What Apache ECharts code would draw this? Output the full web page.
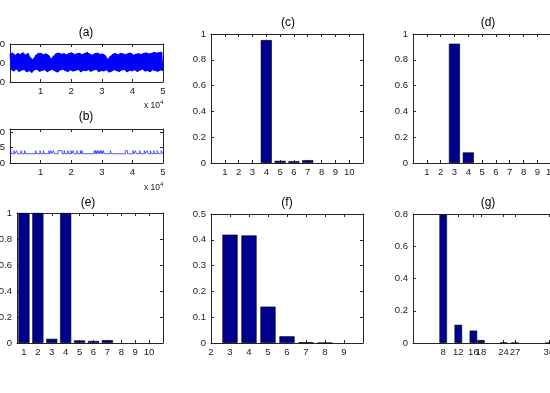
<!DOCTYPE html>
<html>
<head>
<meta charset="utf-8">
<script src="https://cdn.jsdelivr.net/npm/echarts@6/dist/echarts.min.js"></script>
<style>
  html, body { margin: 0; padding: 0; background: #fff; }
  #main { width: 550px; height: 393px; }
</style>
</head>
<body>
<div id="main"></div>
<script>
// (a) noisy trace, read as upper / lower envelope per slice of the record
var sigHigh = [-105,-95,-120,-100,-110,-92,-115,-100,-150,-165,-120,-100,-98,-112,-104,-118,-160,-125,-100,-96,
               -108,-102,-115,-99,-93,-110,-104,-97,-112,-100,-90,-106,-118,-102,-96,-110,-105,-120,-165,-130,
               -108,-100,-115,-98,-104,-112,-100,-96,-118,-108,-102,-110,-99,-94,-105,-100,-88,-96,-92,-85];
var sigLow = [-270,-285,-262,-290,-275,-268,-295,-280,-300,-272,-265,-288,-278,-270,-292,-276,-268,-284,-296,-274,
              -266,-280,-290,-272,-285,-278,-268,-293,-276,-282,-270,-288,-275,-265,-291,-279,-284,-272,-296,-286,
              -270,-281,-289,-274,-268,-295,-277,-283,-270,-290,-276,-264,-285,-279,-292,-271,-280,-287,-273,-278];
var sigMid = -200;
var aTicksY = [-400, -200, 0];

// (b) state sequence: sits at 3, short jumps to 4 ([start, end] in units of 1e4)
var bBase = 3, bTop = 4;
var bSpikes = [[0.02,0.05],[0.13,0.16],[0.22,0.25],[0.36,0.39],[0.48,0.51],[0.84,0.87],[0.98,1.01],[1.09,1.12],
               [1.27,1.30],[1.34,1.37],[1.42,1.45],[1.57,1.70],[1.77,1.80],[1.89,1.92],[1.99,2.02],[2.06,2.09],
               [2.19,2.22],[2.30,2.33],[2.35,2.38],[2.75,2.78],[2.80,2.83],[2.85,2.88],[2.90,2.93],[2.95,2.98],
               [3.00,3.03],[3.05,3.08],[3.28,3.31],[3.77,3.84],[4.02,4.05],[4.10,4.13],[4.24,4.27],[4.39,4.42],
               [4.48,4.51],[4.59,4.62],[4.70,4.73],[4.81,4.84],[4.94,5.00]];
var bTicksY = [0, 5, 10];
var timeTicks = [1, 2, 3, 4, 5]; // x 10^4

// (c) (d) (e) bars over 1..10
var barCats = [1, 2, 3, 4, 5, 6, 7, 8, 9, 10];
var cVals = [0, 0, 0, 0.953, 0.017, 0.014, 0.022, 0, 0, 0];
var dVals = [0, 0, 0.925, 0.082, 0, 0, 0, 0, 0, 0];
var eVals = [1, 1, 0.032, 1, 0.02, 0.016, 0.022, 0, 0, 0];
var unitTicksY = [0, 0.2, 0.4, 0.6, 0.8, 1];

// (f)
var fCats = [3, 4, 5, 6, 7, 8, 9];
var fVals = [0.42, 0.417, 0.141, 0.026, 0.003, 0.0005, 0];
var fTicksX = [2, 3, 4, 5, 6, 7, 8, 9];
var fTicksY = [0, 0.1, 0.2, 0.3, 0.4, 0.5];

// (g)
var gCats = [8, 12, 16, 18, 24, 27, 36];
var gVals = [0.795, 0.113, 0.077, 0.018, 0.003, 0.0008, 0.0003];
var gTicksX = [8, 12, 16, 18, 24, 27, 36];
var gTicksY = [0, 0.2, 0.4, 0.6, 0.8];

var FONT = '"Liberation Sans", Arial, sans-serif';
var INK = '#262626';
var BAR = '#00008f';
var TRACE = '#0000ff';

var grids = [], xAxes = [], yAxes = [], series = [], graphics = [];

function axis(gi, pos, range, ticks, showLabels, fmt, isX) {
  return {
    type: 'value', gridIndex: gi, position: pos,
    min: range[0], max: range[1],
    splitLine: { show: false },
    axisLine: { show: true, onZero: false, lineStyle: { color: INK, width: 1 } },
    axisTick: { show: true, inside: true, length: 3, customValues: ticks, lineStyle: { color: INK } },
    axisLabel: {
      show: showLabels, customValues: ticks, formatter: fmt,
      color: '#1a1a1a', fontFamily: FONT, fontSize: 9.5, margin: isX ? 4 : 5
    }
  };
}

// one MATLAB-style boxed axes; returns axis indices for its series
function panel(box, xr, xticks, xfmt, yr, yticks) {
  var gi = grids.length;
  grids.push({ left: box[0], top: box[1], width: box[2], height: box[3],
    containLabel: false, outerBoundsMode: 'none' });
  xAxes.push(axis(gi, 'bottom', xr, xticks, true, xfmt, true));
  xAxes.push(axis(gi, 'top', xr, xticks, false, null, true));
  yAxes.push(axis(gi, 'left', yr, yticks, true, null, false));
  yAxes.push(axis(gi, 'right', yr, yticks, false, null, false));
  return { xAxisIndex: 2 * gi, yAxisIndex: 2 * gi, box: box, xr: xr };
}

function title(text, x, y) {
  graphics.push({ type: 'text', x: x, y: y, silent: true,
    style: { text: text, font: '12px ' + FONT, fill: '#000', textAlign: 'center', textVerticalAlign: 'middle' } });
}

function timeLabel(x, y) {
  graphics.push({ type: 'text', x: x, y: y, silent: true,
    style: { text: 'x 10', font: '8.5px ' + FONT, fill: '#1a1a1a', textAlign: 'left', textVerticalAlign: 'middle' } });
  graphics.push({ type: 'text', x: x + 16, y: y - 3.5, silent: true,
    style: { text: '4', font: '6px ' + FONT, fill: '#1a1a1a', textAlign: 'left', textVerticalAlign: 'middle' } });
}

function bars(p, cats, vals, unitWidth) {
  var px = p.box[2] / (p.xr[1] - p.xr[0]);
  series.push({
    type: 'bar', xAxisIndex: p.xAxisIndex, yAxisIndex: p.yAxisIndex,
    data: cats.map(function (c, i) {
      // empty bins sit flat on the axis line
      return vals[i] === 0 ? { value: [c, 0], itemStyle: { borderWidth: 0 } } : [c, vals[i]];
    }),
    barWidth: px * unitWidth,
    itemStyle: { color: BAR, borderColor: '#000', borderWidth: 0.6 }
  });
}

var tickFmt = function (v) { return String(v / 1e4); };

// (a)
var pa = panel([10, 44, 153, 38], [0, 50000], timeTicks.map(function (t) { return t * 1e4; }), tickFmt, [-400, 0], aTicksY);
var slice = 50000 / (sigHigh.length - 0.5);
var aHigh = [], aLow = [], aData = [];
for (var i = 0; i < sigHigh.length; i++) {
  aHigh.push([i * slice, sigHigh[i]]);
  aLow.push([(i + 0.5) * slice, sigLow[i]]);
  aData.push([i * slice, sigHigh[i]]);
  aData.push([(i + 0.5) * slice, sigLow[i]]);
}
// solid band: each envelope filled toward the centre level, then the jagged trace on top
[aHigh, aLow].forEach(function (env) {
  series.push({ type: 'line', xAxisIndex: pa.xAxisIndex, yAxisIndex: pa.yAxisIndex, data: env,
    showSymbol: false, lineStyle: { color: TRACE, width: 1 },
    areaStyle: { color: TRACE, opacity: 1, origin: sigMid } });
});
series.push({ type: 'line', xAxisIndex: pa.xAxisIndex, yAxisIndex: pa.yAxisIndex, data: aData,
  showSymbol: false, lineStyle: { color: TRACE, width: 1 } });

// (b)
var pb = panel([10, 129, 153, 34], [0, 50000], timeTicks.map(function (t) { return t * 1e4; }), tickFmt, [0, 11], bTicksY);
var bData = [[0, bBase]];
bSpikes.forEach(function (s) {
  bData.push([s[0] * 1e4, bBase], [s[0] * 1e4, bTop], [s[1] * 1e4, bTop], [s[1] * 1e4, bBase]);
});
bData.push([50000, bBase]);
series.push({ type: 'line', xAxisIndex: pb.xAxisIndex, yAxisIndex: pb.yAxisIndex, data: bData,
  showSymbol: false, lineStyle: { color: '#3030ff', width: 0.8 } });

// (c) (d) (e)
var pc = panel([211, 34, 152, 129], [0, 11], barCats, null, [0, 1], unitTicksY);
bars(pc, barCats, cVals, 0.8);
var pd = panel([413, 34, 152, 129], [0, 11], barCats, null, [0, 1], unitTicksY);
bars(pd, barCats, dVals, 0.8);
var pe = panel([17, 213, 146, 130], [0.5, 11], barCats, null, [0, 1], unitTicksY);
bars(pe, barCats, eVals, 0.8);

// (f) (g)
var pf = panel([211, 214, 152, 129], [2, 10], fTicksX, null, [0, 0.5], fTicksY);
bars(pf, fCats, fVals, 0.8);
var pg = panel([413, 214, 151, 129], [0, 40], gTicksX, null, [0, 0.8], gTicksY);
bars(pg, gCats, gVals, 2);

title('(a)', 86, 33);
title('(b)', 86, 117);
title('(c)', 288, 23);
title('(d)', 488, 23);
title('(e)', 88, 203);
title('(f)', 287, 203);
title('(g)', 488, 203);
timeLabel(144, 106);
timeLabel(144, 188);

var chart = echarts.init(document.getElementById('main'));
chart.setOption({
  animation: false,
  backgroundColor: '#fff',
  grid: grids,
  xAxis: xAxes,
  yAxis: yAxes,
  series: series,
  graphic: graphics
});
</script>
</body>
</html>
